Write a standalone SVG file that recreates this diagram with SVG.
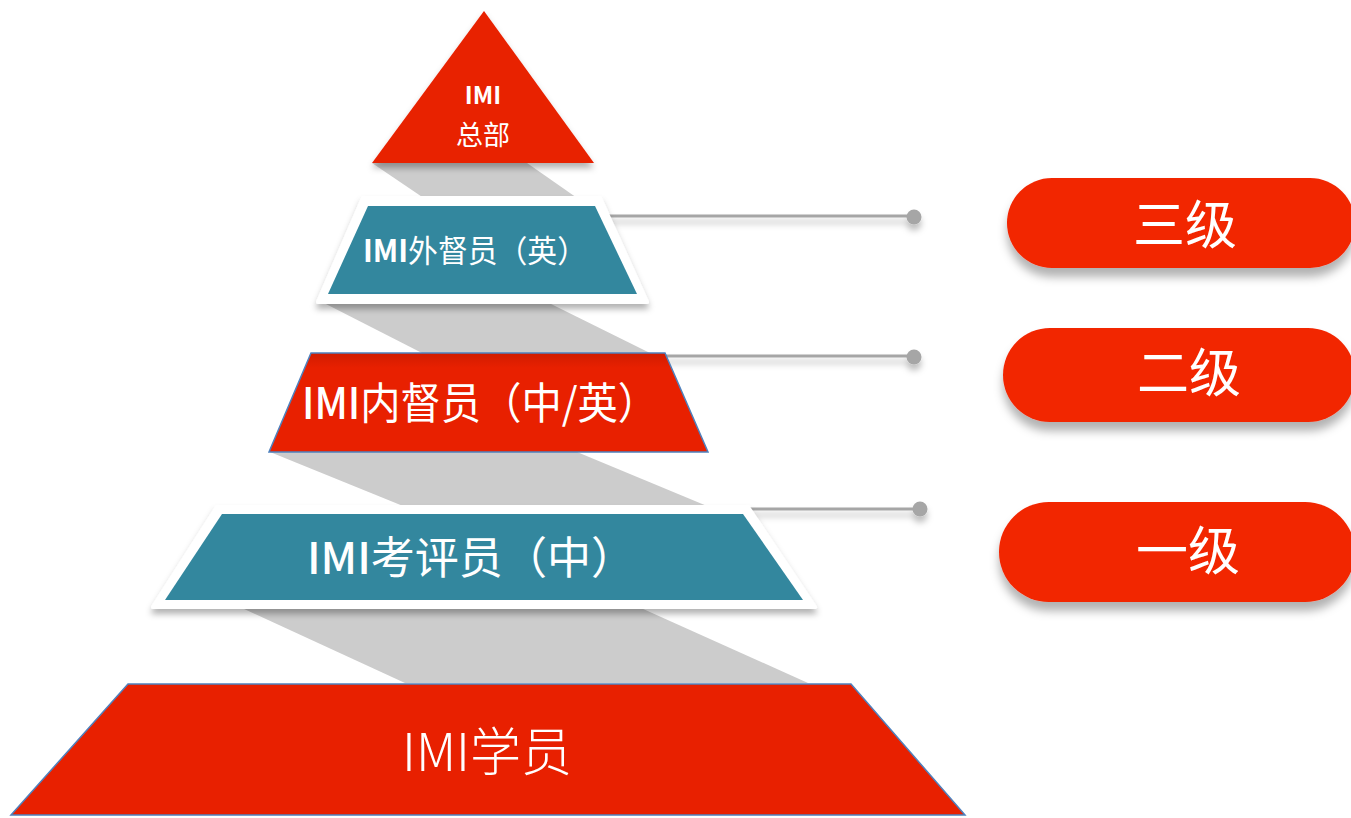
<svg xmlns="http://www.w3.org/2000/svg" width="1351" height="818" viewBox="0 0 1351 818">
<defs>
<filter id="sh" x="-10%" y="-20%" width="120%" height="160%">
<feDropShadow dx="0" dy="5" stdDeviation="3" flood-color="#000" flood-opacity="0.3"/>
</filter>
<filter id="psh" x="-10%" y="-20%" width="120%" height="160%">
<feDropShadow dx="0" dy="9" stdDeviation="5" flood-color="#000" flood-opacity="0.3"/>
</filter>
<filter id="lsh" x="-5%" y="-200%" width="110%" height="600%">
<feDropShadow dx="0" dy="6" stdDeviation="3" flood-color="#000" flood-opacity="0.25"/>
</filter>
<linearGradient id="t3g" x1="0" y1="0" x2="0" y2="1">
<stop offset="0" stop-color="#D01C00"/>
<stop offset="0.15" stop-color="#E82000"/>
<stop offset="1" stop-color="#E82000"/>
</linearGradient>
</defs>
<style>
.red{fill:#E82000}
.teal{fill:#33879E}
.band{fill:#CCCCCC}
.frame{fill:#FFFFFF;stroke:#FFFFFF;stroke-width:4;stroke-linejoin:round}
.edge{stroke:#4F81BD;stroke-width:1.5}
.t{fill:#FFFFFF;font-family:"Noto Sans CJK SC","Noto Sans",sans-serif;text-anchor:middle}
.b{font-weight:bold}
.pill{fill:#F22500}
.pt{fill:#FFFFFF;font-family:"Noto Sans CJK SC",sans-serif;font-size:52px;text-anchor:middle}
.ln{stroke:#A6A6A6;stroke-width:3;fill:none}
.dot{fill:#A6A6A6}
</style>

<g id="bands">
<polygon class="band" points="372,163 527,163 590,207 437,207"/>
<polygon class="band" points="322,302 547,302 650,353 422,353"/>
<polygon class="band" points="270,452 577,452 707,506 403,506"/>
<polygon class="band" points="242,608 641,608 808,683 405,683"/>
</g>

<g id="connectors">
<g filter="url(#lsh)">
<line class="ln" x1="600" y1="216" x2="914" y2="216"/>
<circle class="dot" cx="914" cy="217" r="7.5"/>
</g>
<g filter="url(#lsh)">
<line class="ln" x1="664" y1="356" x2="914" y2="356"/>
<circle class="dot" cx="914" cy="357" r="7.5"/>
</g>
<g filter="url(#lsh)">
<line class="ln" x1="750" y1="509" x2="920" y2="509"/>
<circle class="dot" cx="920" cy="509" r="7.5"/>
</g>
</g>

<g id="node-hq">
<polygon class="red" points="484,11 594,163 372,163" filter="url(#sh)"/>
<text class="t b" x="483" y="104" font-size="24">IMI</text>
<text class="t" x="483" y="145" font-size="27">总部</text>
</g>

<g id="node-external">
<polygon class="frame" points="363,198 600,198 647,302 318,302" filter="url(#sh)"/>
<polygon class="teal" points="368,206 595,206 637,294 328,294"/>
<text class="t" x="475" y="262" font-size="31" textLength="224" lengthAdjust="spacingAndGlyphs"><tspan class="b">IMI</tspan>外督员（英）</text>
</g>

<g id="node-internal">
<polygon fill="url(#t3g)" class="edge" points="311,353 665,353 708,452 269,452"/>
<text class="t" x="480" y="419" font-size="43" textLength="356" lengthAdjust="spacingAndGlyphs"><tspan font-weight="500">IMI</tspan>内督员（中/英）</text>
</g>

<g id="node-assessor">
<polygon class="frame" points="217,507 748,507 815,607 153,607" filter="url(#sh)"/>
<polygon class="teal" points="222,514 743,514 803,600 165,600"/>
<text class="t" x="471" y="574" font-size="44" textLength="328" lengthAdjust="spacingAndGlyphs"><tspan font-weight="500">IMI</tspan>考评员（中）</text>
</g>

<g id="node-student">
<polygon class="red edge" points="128,684 851,684 965,815 11,815"/>
<text class="t" x="487" y="771" font-size="52" font-weight="300" textLength="170" lengthAdjust="spacingAndGlyphs">IMI学员</text>
</g>

<g id="node-level3">
<rect class="pill" x="1007" y="178" width="348" height="90" rx="45" filter="url(#psh)"/>
<text class="pt" x="1185" y="244">三级</text>
</g>
<g id="node-level2">
<rect class="pill" x="1003" y="328" width="352" height="94" rx="47" filter="url(#psh)"/>
<text class="pt" x="1189" y="392">二级</text>
</g>
<g id="node-level1">
<rect class="pill" x="999" y="502" width="356" height="100" rx="50" filter="url(#psh)"/>
<text class="pt" x="1188" y="570">一级</text>
</g>
</svg>
